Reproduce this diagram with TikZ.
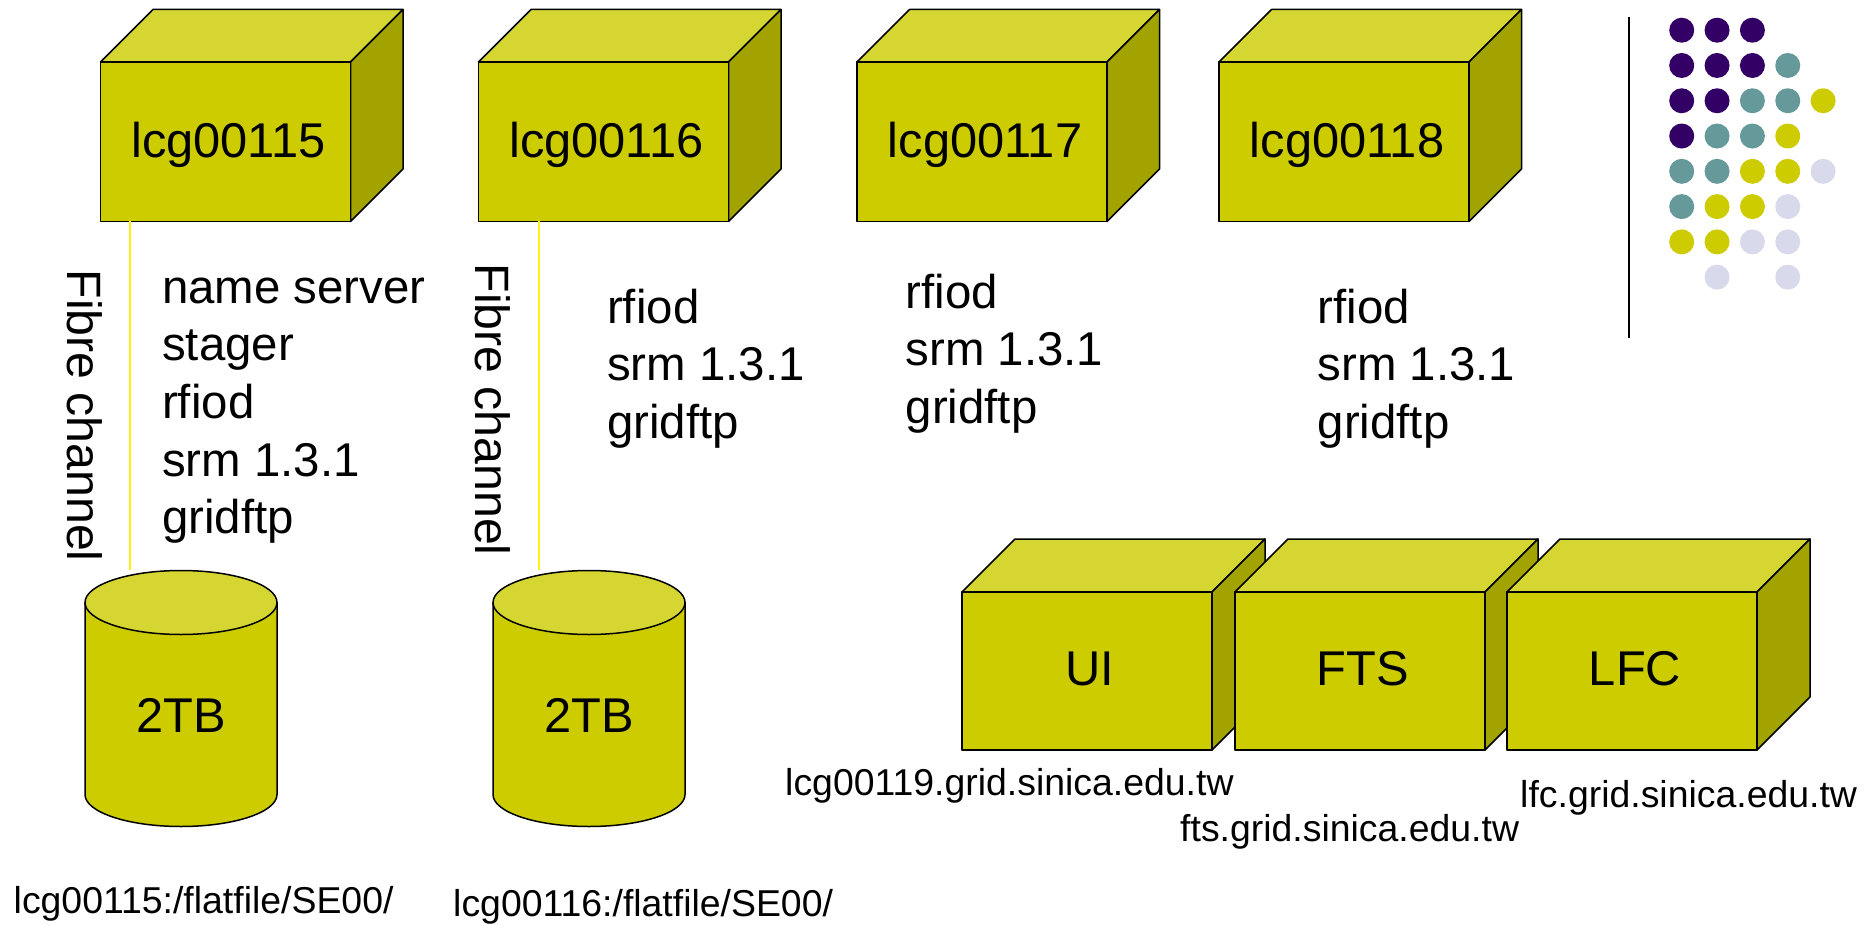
\documentclass[tikz,border=0pt]{standalone}
\usepackage{fontspec}
\setmainfont{Liberation Sans}
\usetikzlibrary{calc}
\definecolor{frontc}{HTML}{CCCC00}
\definecolor{topc}{HTML}{D6D633}
\definecolor{sidec}{HTML}{A3A300}
\definecolor{purplec}{HTML}{330066}
\definecolor{tealc}{HTML}{669999}
\definecolor{lavc}{HTML}{D9D9EC}
\tikzset{
  edge/.style={draw=black,line width=1.5pt,line join=round},
  front/.style={edge,fill=frontc,inner sep=0pt,outer sep=0pt,rectangle},
  big/.style={font=\fontsize{47.4}{57.6}\selectfont,inner sep=0pt,text=black},
  boxtext/.style={font=\fontsize{48.8}{57.6}\selectfont,inner sep=0pt,text=black,anchor=base},
  small/.style={font=\fontsize{37.4}{45}\selectfont,inner sep=0pt,text=black,anchor=base west},
  block/.style={big,anchor=north west,align=left},
  fibre/.style={draw=yellow!95!white,line width=1.8pt},
  fibrelabel/.style={font=\fontsize{48.2}{57.6}\selectfont,inner sep=0pt,text=black,rotate=-90,anchor=base west},
  dot/.style={circle,inner sep=0pt,minimum size=25pt},
}
% name, x left, y top, width, height, depth, text, text baseline y
\newcommand{\cubebox}[8]{
  \coordinate (#1tl) at (#2,#3);
  \coordinate (#1br) at ($(#1tl)+(#4,#5)$);
  \path[edge,fill=topc] (#1tl) -- ++(#6,-#6) -- ++(#4,0) -- ++(-#6,#6) -- cycle;
  \path[edge,fill=sidec] ($(#1tl)+(#4,0)$) -- ++(#6,-#6) -- ++(0,#5) -- ++(-#6,#6) -- cycle;
  \node[front,minimum width=#4pt,minimum height=#5pt] (#1) at ($(#1tl)!0.5!(#1br)$) {};
  \node[boxtext] (#1text) at ([xshift=3pt]#1.center |- 0,#8) {#7};
}
% name, x left, y top, width, total height, ry, text, text baseline y
\newcommand{\canshape}[8]{
  \path[edge,fill=frontc] (#2,#3+#6) -- (#2,#3+#5-#6) arc[start angle=180,end angle=0,x radius=#4/2,y radius=#6] -- (#2+#4,#3+#6) -- cycle;
  \path[edge,fill=topc] (#2+#4/2,#3+#6) ellipse[x radius=#4/2,y radius=#6];
  \node[inner sep=0pt,minimum width=#4pt,minimum height=#5pt] (#1) at (#2+#4/2,#3+#5/2) {};
  \node[boxtext] (#1text) at ([xshift=0.5pt]#1.center |- 0,#8) {#7};
}
\begin{document}
\begin{tikzpicture}[x=1pt,y=-1pt]
\useasboundingbox (0,0) rectangle (1876,925);

\cubebox{boxa}{100.5}{62}{250}{159.5}{52.5}{lcg00115}{157.5}
\cubebox{boxb}{478.5}{62}{250}{159.5}{52.5}{lcg00116}{157.5}
\cubebox{boxc}{857}{62}{250}{159.5}{52.5}{lcg00117}{157.5}
\cubebox{boxd}{1219}{62}{250}{159.5}{52.5}{lcg00118}{157.5}

\cubebox{ui}{962}{592}{250}{158}{53}{UI}{685}
\cubebox{fts}{1235}{592}{250}{158}{53}{FTS}{685}
\cubebox{lfc}{1507}{592}{250}{158}{53}{LFC}{685}

\canshape{cana}{85}{570.5}{192}{256}{32}{2TB}{732.5}
\canshape{canb}{493}{570.5}{192}{256}{32}{2TB}{732.5}

\coordinate (fca) at (130,400);
\coordinate (fcb) at (539,400);
\draw[fibre] (boxa.south -| fca) -- (cana.north -| fca);
\draw[fibre] (boxb.south -| fcb) -- (canb.north -| fcb);

\node[fibrelabel] (fla) at (67.2,269.5) {Fibre channel};
\node[fibrelabel] (flb) at (475,263.5) {Fibre channel};

\node[block] (sa) at (162,263) {\rule{0pt}{40pt}name server\\stager\\rfiod\\srm 1.3.1\\gridftp};
\node[block] (sb) at (607,283) {\rule{0pt}{40pt}rfiod\\srm 1.3.1\\gridftp};
\node[block] (sc) at (905.5,268) {\rule{0pt}{40pt}rfiod\\srm 1.3.1\\gridftp};
\node[block] (sd) at (1317.5,283) {\rule{0pt}{40pt}rfiod\\srm 1.3.1\\gridftp};

\node[small] (la) at (13.5,913) {lcg00115:/flatfile/SE00/};
\node[small] (lb) at (453,916) {lcg00116:/flatfile/SE00/};
\node[small] (lc) at (785,795) {lcg00119.grid.sinica.edu.tw};
\node[small] (ld) at (1180,841) {fts.grid.sinica.edu.tw};
\node[small] (le) at (1520,807) {lfc.grid.sinica.edu.tw};

\coordinate (vt) at (1629,16.7);
\coordinate (vb) at (1629,338);
\draw[line width=1.6pt,black] (vt) -- (vb);

\foreach \c/\r/\col in {
 0/0/purplec,1/0/purplec,2/0/purplec,
 0/1/purplec,1/1/purplec,2/1/purplec,3/1/tealc,
 0/2/purplec,1/2/purplec,2/2/tealc,3/2/tealc,4/2/frontc,
 0/3/purplec,1/3/tealc,2/3/tealc,3/3/frontc,
 0/4/tealc,1/4/tealc,2/4/frontc,3/4/frontc,4/4/lavc,
 0/5/tealc,1/5/frontc,2/5/frontc,3/5/lavc,
 0/6/frontc,1/6/frontc,2/6/lavc,3/6/lavc,
 1/7/lavc,3/7/lavc}
  \node[dot,fill=\col] (d\c\r) at (1681.7+35.35*\c,30.2+35.28*\r) {};
\end{tikzpicture}
\end{document}
